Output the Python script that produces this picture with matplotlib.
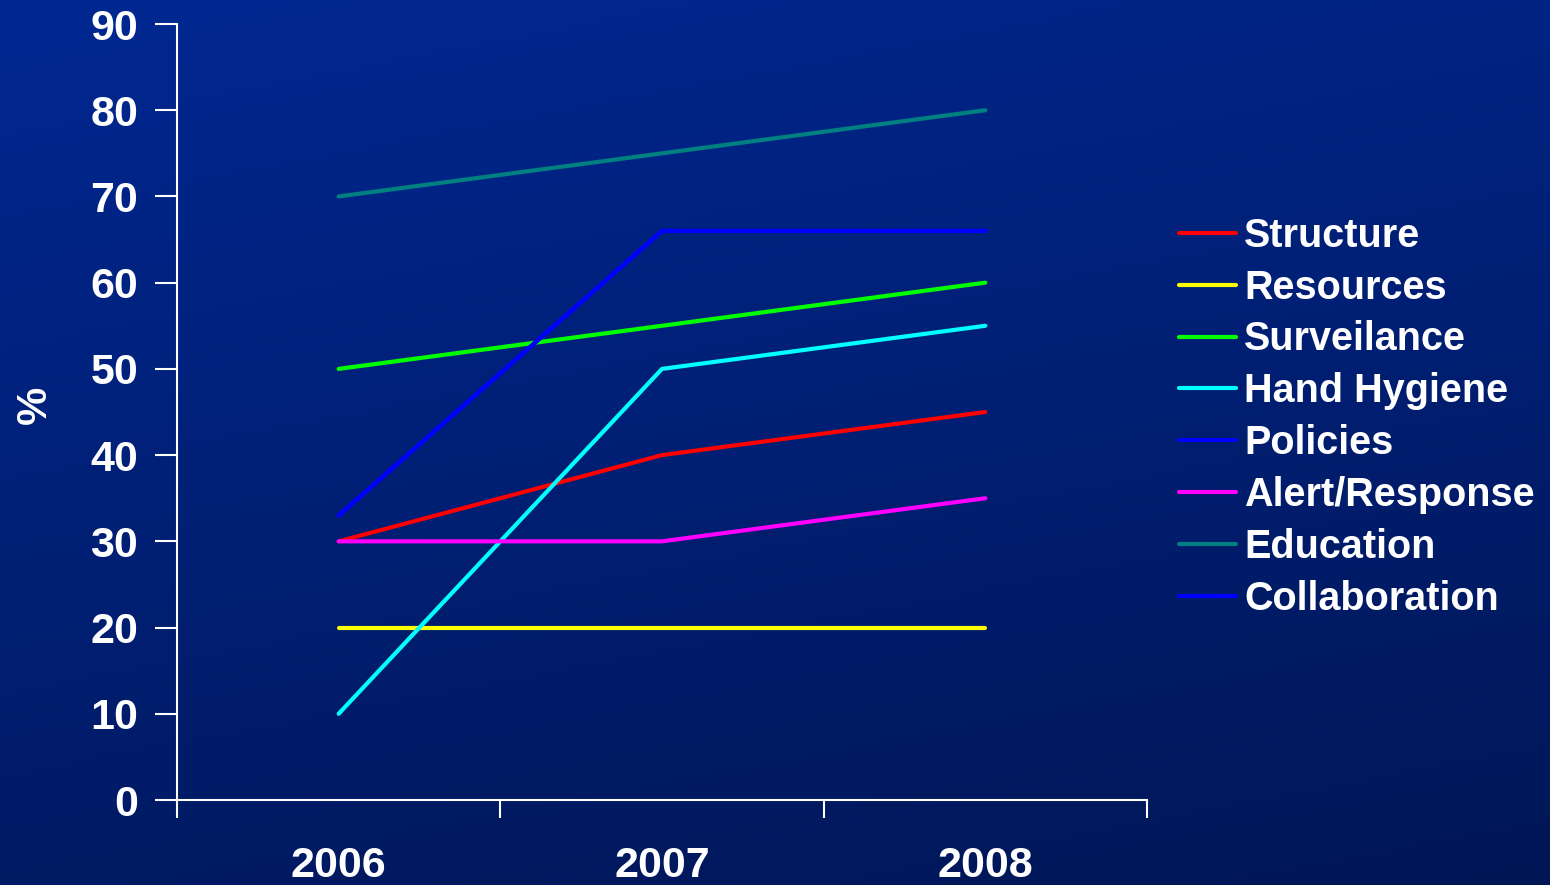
import matplotlib
matplotlib.use("Agg")
import matplotlib.pyplot as plt
import numpy as np

years = ["2006", "2007", "2008"]
series_names = ["Structure", "Resources", "Surveilance", "Hand Hygiene",
                "Policies", "Alert/Response", "Education", "Collaboration"]
structure = [30, 40, 45]
resources = [20, 20, 20]
surveilance = [50, 55, 60]
hand_hygiene = [10, 50, 55]
policies = [33, 66, 66]
alert_response = [30, 30, 35]
education = [70, 75, 80]
collaboration = [33, 66, 66]
series_colors = ["#ff0000", "#ffff00", "#00ff00", "#00ffff",
                 "#0000ff", "#ff00ff", "#008080", "#0000ff"]

plt.rcParams['font.family'] = ['Liberation Sans', 'DejaVu Sans']
plt.rcParams['font.weight'] = 'bold'

fig = plt.figure(figsize=(15.5, 8.85), dpi=100)

# slide-style blue gradient behind everything
bg = fig.add_axes([0, 0, 1, 1], zorder=-10)
yy, xx = np.mgrid[0:1:200j, 0:1:300j]
t = np.clip(0.75 * yy + 0.25 * xx, 0, 1)
top = np.array([0x00, 0x28, 0x92]) / 255
bottom = np.array([0x00, 0x16, 0x55]) / 255
img = top[None, None, :] * (1 - t[..., None]) + bottom[None, None, :] * t[..., None]
bg.imshow(img, aspect='auto', extent=[0, 1, 0, 1], origin='upper')
bg.axis('off')

ax = fig.add_axes([177 / 1550, 85 / 885, 970 / 1550, 776 / 885])
ax.patch.set_alpha(0)

x = np.arange(len(years)) + 0.5
all_series = [structure, resources, surveilance, hand_hygiene,
              policies, alert_response, education, collaboration]
for name, vals, col in zip(series_names, all_series, series_colors):
    ax.plot(x, vals, color=col, lw=3, label=name, solid_capstyle='round')

ax.set_xlim(0, 3)
ax.set_ylim(0, 90)
ax.set_yticks(range(0, 91, 10))
ax.set_xticks([0, 1, 2, 3])
ax.set_xticklabels([])
ax.set_xticks(x, minor=True)
ax.set_xticklabels(years, minor=True)
ax.tick_params(axis='x', which='minor', length=0, pad=33, labelsize=31, colors='white')
ax.tick_params(axis='x', which='major', length=13, width=1.5, color='white', direction='out')
ax.tick_params(axis='y', length=16, width=1.5, color='white', labelcolor='white',
               labelsize=31, pad=12, direction='out')
for lbl in ax.get_yticklabels() + ax.get_xticklabels(minor=True):
    lbl.set_fontweight('bold')

for side in ['top', 'right']:
    ax.spines[side].set_visible(False)
for side in ['left', 'bottom']:
    ax.spines[side].set_color('white')
    ax.spines[side].set_linewidth(1.5)

fig.text(35 / 1550, 1 - 405 / 885, "%", rotation=90, color='white',
         fontsize=31, fontweight='bold', ha='center', va='center')

leg = ax.legend(loc='upper left', bbox_to_anchor=(1159 / 1550, 1 - 197 / 885),
                bbox_transform=fig.transFigure, frameon=False,
                fontsize=28.5, handlelength=1.45, handletextpad=0.2,
                labelspacing=0.35, borderpad=0)
for txt in leg.get_texts():
    txt.set_color('white')
    txt.set_fontweight('bold')

fig.savefig("out.png", dpi=100)
